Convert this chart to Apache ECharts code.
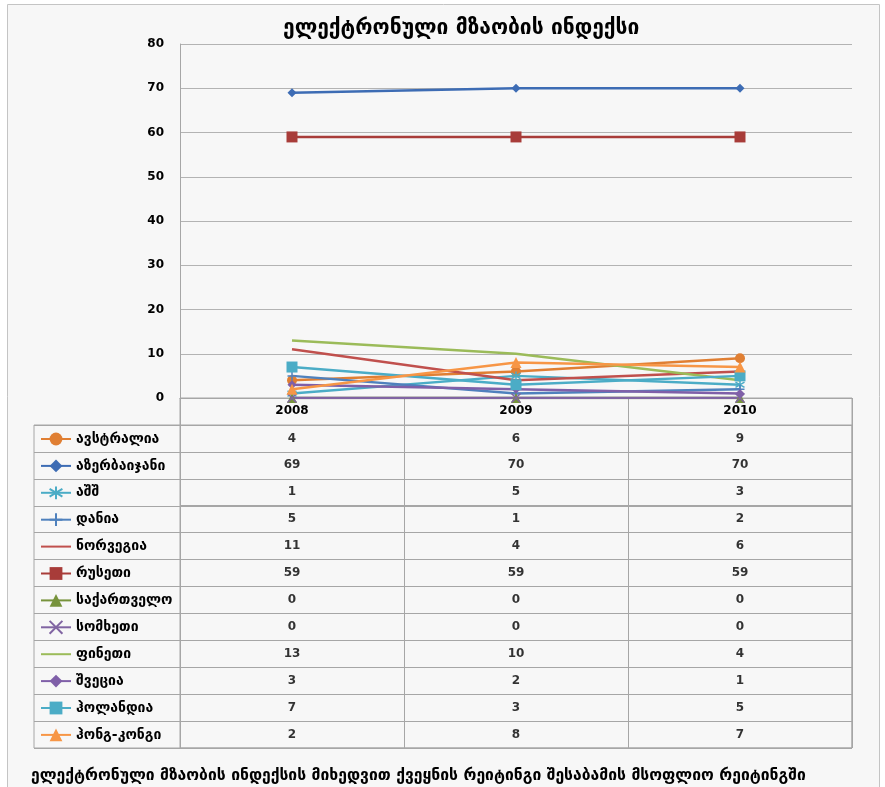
<!DOCTYPE html>
<html>
<head>
<meta charset="utf-8">
<script src="https://cdn.jsdelivr.net/npm/echarts@6/dist/echarts.min.js"></script>
<style>
  html, body { margin: 0; padding: 0; background: #ffffff; }
  #chart { width: 885px; height: 787px; }
</style>
</head>
<body>
<div id="chart"></div>
<script>
// years on the x axis
const years = ['2008', '2009', '2010']
// countries, in table order
const countries = ['ავსტრალია', 'აზერბაიჯანი', 'აშშ', 'დანია', 'ნორვეგია', 'რუსეთი',
  'საქართველო', 'სომხეთი', 'ფინეთი', 'შვეცია', 'ჰოლანდია', 'ჰონგ-კონგი']
// values per country (2008, 2009, 2010)
const australia = [4, 6, 9]
const azerbaijan = [69, 70, 70]
const usa = [1, 5, 3]
const denmark = [5, 1, 2]
const norway = [11, 4, 6]
const russia = [59, 59, 59]
const georgia = [0, 0, 0]
const armenia = [0, 0, 0]
const finland = [13, 10, 4]
const sweden = [3, 2, 1]
const netherlands = [7, 3, 5]
const hongKong = [2, 8, 7]
const yTicks = [0, 80, 10] // min, max, interval

const values = [australia, azerbaijan, usa, denmark, norway, russia,
  georgia, armenia, finland, sweden, netherlands, hongKong]

const FONT = "'DejaVu Sans', sans-serif"
const colors = ['#e07f33', '#3d6cb4', '#4bacc6', '#4f81bd', '#c0504d', '#a83c39',
  '#77933c', '#8064a2', '#9bbb59', '#7f5fa8', '#4bacc6', '#f79646']
const symbols = ['circle', 'diamond', 'path://M5,0L5,10M0,2L10,8M0,8L10,2',
  'path://M5,0L5,10M0,5L10,5', 'none', 'rect', 'triangle',
  'path://M0,0L10,10M10,0L0,10', 'none', 'diamond', 'rect', 'triangle']
const symbolSizes = [10, 9, 9, 9, 0, 11, 10, 9, 0, 9, 11, 11]
const strokeSym = [2, 3, 7]

const lineSeries = countries.map((name, i) => ({
  name: name,
  type: 'line',
  xAxisIndex: 0,
  yAxisIndex: 0,
  data: values[i],
  symbol: symbols[i],
  symbolSize: symbolSizes[i],
  showSymbol: symbols[i] !== 'none',
  lineStyle: { color: colors[i], width: 2.5 },
  itemStyle: strokeSym.includes(i)
    ? { color: colors[i], borderColor: colors[i], borderWidth: 1.5 }
    : { color: colors[i] },
  emphasis: { disabled: true },
  animation: false
}))

// legend entries: plain line for series without markers
const legendData = countries.map((name, i) => symbols[i] === 'none'
  ? { name: name, itemStyle: { opacity: 0 } }
  : { name: name })

// cells of the data table
const cellData = []
countries.forEach((c, i) => {
  years.forEach((y, j) => { cellData.push([y, c, values[i][j]]) })
})

const tableLine = { show: true, interval: 0, lineStyle: { color: '#a6a6a6', width: 1 } }

const myChart = echarts.init(document.getElementById('chart'))
myChart.setOption({
  backgroundColor: '#ffffff',
  animation: false,
  graphic: [{
    type: 'rect',
    z: -10,
    shape: { x: 7.5, y: 4.5, width: 872, height: 790 },
    style: { fill: '#f7f7f7', stroke: '#c4c4c4', lineWidth: 1 }
  }],
  title: [{
    text: 'ელექტრონული მზაობის ინდექსი',
    left: 278,
    top: 13,
    textStyle: { fontFamily: FONT, fontSize: 21, fontWeight: 'bold', color: '#000' }
  }, {
    text: 'ელექტრონული მზაობის ინდექსის მიხედვით ქვეყნის რეიტინგი შესაბამის მსოფლიო რეიტინგში',
    left: 26,
    top: 763,
    textStyle: { fontFamily: FONT, fontSize: 15.7, fontWeight: 'bold', color: '#000' }
  }],
  legend: {
    data: legendData,
    orient: 'vertical',
    left: 35,
    top: 426,
    itemWidth: 30,
    itemHeight: 16,
    itemGap: 10.9,
    selectedMode: false,
    textStyle: { fontFamily: FONT, fontSize: 14, fontWeight: 'bold', color: '#000', lineHeight: 16 }
  },
  grid: [
    { left: 180, right: 33, top: 44, height: 354 },
    { left: 180, right: 33, top: 398, bottom: 39, show: true, borderColor: '#a6a6a6', borderWidth: 1 },
    { left: 34, right: 33, top: 425, bottom: 39, show: true, borderColor: '#a6a6a6', borderWidth: 1 }
  ],
  xAxis: [{
    gridIndex: 0,
    type: 'category',
    data: years,
    boundaryGap: true,
    axisTick: { show: false },
    axisLine: { lineStyle: { color: '#a6a6a6' } },
    axisLabel: { margin: 7, fontFamily: FONT, fontSize: 12, fontWeight: 'bold', color: '#000' }
  }, {
    gridIndex: 1,
    type: 'category',
    data: years,
    axisTick: { show: false },
    axisLabel: { show: false },
    axisLine: { show: false },
    splitLine: tableLine
  }, {
    gridIndex: 2,
    type: 'category',
    data: [''],
    axisTick: { show: false },
    axisLabel: { show: false },
    axisLine: { show: false }
  }],
  yAxis: [{
    gridIndex: 0,
    type: 'value',
    min: yTicks[0],
    max: yTicks[1],
    interval: yTicks[2],
    axisLine: { show: true, lineStyle: { color: '#a6a6a6' } },
    axisLabel: { margin: 16, fontFamily: FONT, fontSize: 12, fontWeight: 'bold', color: '#000' },
    splitLine: { show: true, lineStyle: { color: '#b3b3b3', width: 1 } }
  }, {
    gridIndex: 1,
    type: 'category',
    data: [''].concat(countries),
    inverse: true,
    axisTick: { show: false },
    axisLabel: { show: false },
    axisLine: { show: false },
    splitLine: tableLine
  }, {
    gridIndex: 2,
    type: 'category',
    data: countries,
    inverse: true,
    axisTick: { show: false },
    axisLabel: { show: false },
    axisLine: { show: false },
    splitLine: tableLine
  }],
  series: lineSeries.concat([{
    name: 'table',
    type: 'scatter',
    xAxisIndex: 1,
    yAxisIndex: 1,
    symbolSize: 0,
    data: cellData,
    label: {
      show: true,
      position: 'inside',
      formatter: p => String(p.value[2]),
      fontFamily: FONT,
      fontSize: 12,
      fontWeight: 'bold',
      color: '#000'
    },
    emphasis: { disabled: true }
  }])
})
</script>
</body>
</html>
